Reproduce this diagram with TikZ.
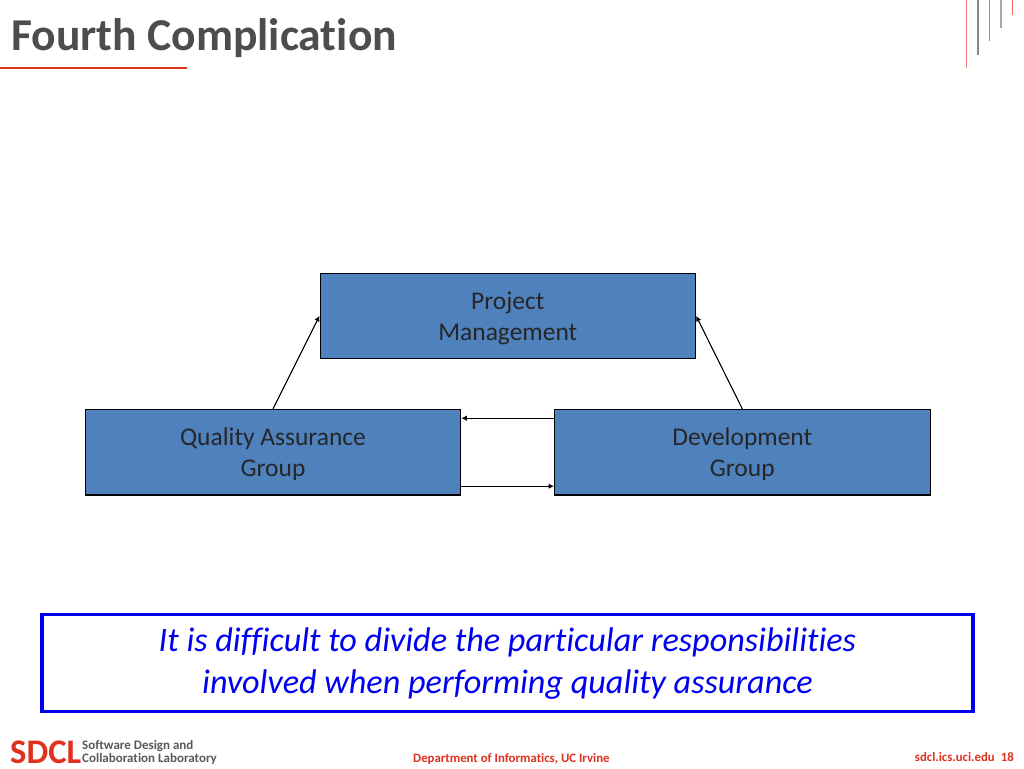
\documentclass[tikz,border=0pt]{standalone}
\usepackage{fontspec}
\setmainfont{Carlito}[Ligatures=NoCommon]
\definecolor{boxblue}{HTML}{4F81BD}
\definecolor{titlegray}{HTML}{4D4D4D}
\definecolor{sdclred}{HTML}{E0301E}
\definecolor{calloutblue}{HTML}{0000F0}
\definecolor{softred}{HTML}{EE7F78}
\definecolor{softgray}{HTML}{A8A8A8}
\definecolor{footgray}{HTML}{595959}
\usetikzlibrary{arrows.meta}
\newcommand{\orglines}[2]{\raisebox{-9pt}[0pt][0pt]{#1}\\\raisebox{-9pt}[0pt][0pt]{#2}}
\tikzset{
  orgbox/.style={draw=black,line width=1.1pt,fill=boxblue,minimum width=375.5pt,minimum height=85.5pt,inner sep=0pt,align=center,font=\fontsize{25.5}{31}\selectfont,text=black!85},
  link/.style={draw=black,line width=1.1pt,-{Latex[length=5.5pt,width=5.5pt]}},
  deco/.style={line width=1.3pt},
  txt/.style={inner sep=0pt,anchor=base west}
}
\begin{document}
\begin{tikzpicture}[x=1pt,y=-1pt]
\useasboundingbox (0,0) rectangle (1024,768);
\fill[white] (0,0) rectangle (1024,768);
% title
\node[txt,text=titlegray,font=\fontsize{45.6}{50}\selectfont\bfseries] (title) at (11,50) {Fourth Complication};
\coordinate (ruleL) at (0,68);
\coordinate (ruleR) at (187,68);
\draw[sdclred,line width=1.6pt] (ruleL) -- (ruleR);
% decorative lines
\draw[deco,softred]  (966.5,0) -- (966.5,68);
\draw[deco,softgray!80!black] (978,0) -- (978,55);
\draw[deco,softred!80!red]  (989.5,0) -- (989.5,41);
\draw[deco,softgray]  (1001,0) -- (1001,28);
\draw[deco,softred!80!red]  (1012.5,0) -- (1012.5,15);
% boxes
\node[orgbox] (pm) at (507.8,315.8) {\orglines{Project}{Management}};
\node[orgbox] (qa) at (273,452.2) {\orglines{Quality Assurance}{Group}};
\node[orgbox] (dev) at (742.3,452.2) {\orglines{Development}{Group}};
% connectors
\draw[link] (qa.north) -- (pm.west);
\draw[link] (dev.north) -- (pm.east);
\draw[link] ([yshift=34pt]dev.west) -- ([yshift=34pt]qa.east);
\draw[link] ([yshift=-34pt]qa.east) -- ([yshift=-34pt]dev.west);
% callout
\node[draw=calloutblue,line width=3.6pt,fill=white,minimum width=931pt,minimum height=97pt,inner sep=0pt,align=center,text=calloutblue,font=\fontsize{34.2}{42}\selectfont\itshape] (note) at (507.5,663) {\orglines{It is difficult to divide the particular responsibilities}{involved when performing quality assurance}};
% footer
\node[txt,text=sdclred,font=\fontsize{34.5}{38}\selectfont\bfseries] (sdcl) at (10,763) {SDCL};
\node[inner sep=0pt,anchor=west,align=left,text=footgray,font=\fontsize{13}{12.5}\selectfont\bfseries] (lab) at (82,752.5) {Software Design and\\Collaboration Laboratory};
\node[txt,text=sdclred,font=\fontsize{12.8}{14}\selectfont\bfseries] (dept) at (413,762) {Department of Informatics, UC Irvine};
\node[txt,text=sdclred,font=\fontsize{12.8}{14}\selectfont\bfseries,anchor=base east] (url) at (1014,761) {sdcl.ics.uci.edu\hspace{6pt}18};
\end{tikzpicture}
\end{document}
